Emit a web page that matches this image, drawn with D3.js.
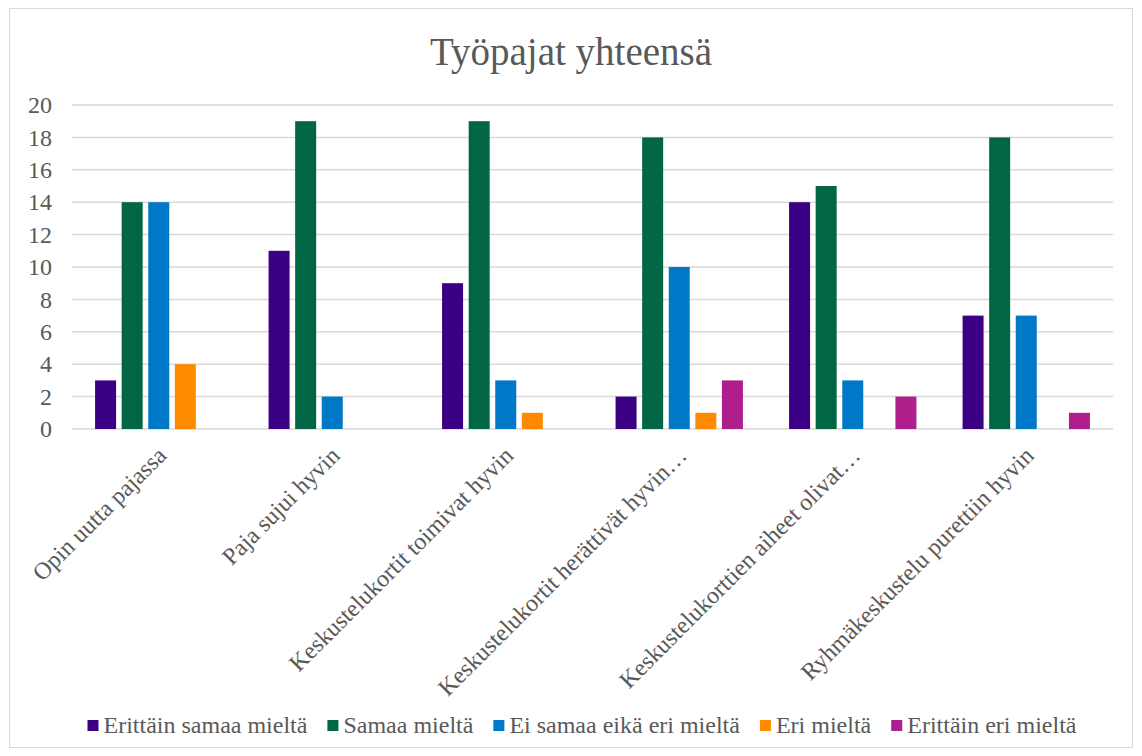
<!DOCTYPE html>
<html>
<head>
<meta charset="utf-8">
<style>
    body { margin: 0; background: #fff; }
    svg { display: block; font-family: 'Liberation Serif', 'Times New Roman', serif; }
</style>
</head>
<body>
<svg width="1142" height="756"></svg>
<script src="https://d3js.org/d3.v7.min.js"></script>
<script>
    // categories and series
    let categories = ["Opin uutta pajassa", "Paja sujui hyvin", "Keskustelukortit toimivat hyvin",
        "Keskustelukortit herättivät hyvin…", "Keskustelukorttien aiheet olivat…", "Ryhmäkeskustelu purettiin hyvin"]
    let seriesNames = ["Erittäin samaa mieltä", "Samaa mieltä", "Ei samaa eikä eri mieltä", "Eri mieltä", "Erittäin eri mieltä"]
    let erittainSamaa = [3, 11, 9, 2, 14, 7]
    let samaa = [14, 19, 19, 18, 15, 18]
    let eiSamaaEikaEri = [14, 2, 3, 10, 3, 7]
    let eri = [4, 0, 1, 1, 0, 0]
    let erittainEri = [0, 0, 0, 3, 2, 1]
    let yTicks = [0, 2, 4, 6, 8, 10, 12, 14, 16, 18, 20]
    let colors = ["#3b0083", "#006646", "#0078c8", "#ff8a00", "#ae1f8c"]

    let seriesValues = [erittainSamaa, samaa, eiSamaaEikaEri, eri, erittainEri]

    let svg = d3.select("svg")
    let serif = "'Liberation Serif', 'Times New Roman', serif"

    // chart border
    svg.append("rect")
        .attr("x", 9.5).attr("y", 8.5)
        .attr("width", 1123).attr("height", 739)
        .attr("fill", "#fff").attr("stroke", "#d9d9d9")

    svg.append("text")
        .attr("x", 571).attr("y", 65)
        .attr("text-anchor", "middle")
        .style("font-family", serif)
        .style("font-size", "39px")
        .style("fill", "#595959")
        .text("Työpajat yhteensä")

    let plotLeft = 72, plotRight = 1113, plotTop = 105, plotBottom = 429

    let x = d3.scaleBand().domain(categories).range([plotLeft, plotRight]).paddingInner(0).paddingOuter(0)
    let xInner = d3.scaleBand().domain(seriesNames).range([x.bandwidth() * 0.133, x.bandwidth() * 0.867]).paddingInner(0.21)
    let y = d3.scaleLinear().domain([0, 20]).range([plotBottom, plotTop])

    // gridlines
    svg.append("g")
        .selectAll("line")
        .data(yTicks)
        .join("line")
        .attr("x1", plotLeft).attr("x2", plotRight)
        .attr("y1", d => y(d)).attr("y2", d => y(d))
        .style("stroke", "#d9d9d9")
        .style("stroke-width", 1.5)

    // y axis labels
    let yAxis = d3.axisLeft(y).tickValues(yTicks).tickSize(0).tickPadding(20)
    let yg = svg.append("g").attr("transform", `translate(${plotLeft},0)`).call(yAxis)
    yg.attr("font-family", null).attr("font-size", null)
    yg.select(".domain").remove()
    yg.selectAll("text")
        .style("font-family", serif)
        .style("font-size", "24px")
        .style("fill", "#595959")

    // bars
    seriesValues.forEach((vals, i) => {
        svg.append("g")
            .selectAll("rect")
            .data(vals.map((v, j) => ({ cat: categories[j], v: v })))
            .join("rect")
            .attr("x", d => x(d.cat) + xInner(seriesNames[i]))
            .attr("width", xInner.bandwidth())
            .attr("y", d => y(d.v))
            .attr("height", d => y(0) - y(d.v))
            .style("fill", colors[i])
    })

    // x labels rotated
    svg.append("g")
        .selectAll("text")
        .data(categories)
        .join("text")
        .attr("transform", d => `translate(${x(d) + x.bandwidth() / 2 + 3},${plotBottom + 22}) rotate(-45)`)
        .attr("text-anchor", "end")
        .attr("dy", "0.35em")
        .style("font-family", serif)
        .style("font-size", "24px")
        .style("fill", "#595959")
        .text(d => d)

    // legend
    let legend = svg.append("g")
    let lx = 0
    seriesNames.forEach((name, i) => {
        let item = legend.append("g").attr("transform", `translate(${lx},0)`)
        item.append("rect")
            .attr("x", 0).attr("y", -13)
            .attr("width", 11).attr("height", 11)
            .style("fill", colors[i])
        let t = item.append("text")
            .attr("x", 16).attr("y", 0)
            .style("font-family", serif)
            .style("font-size", "24px")
            .style("fill", "#595959")
            .text(name)
        lx += 16 + t.node().getComputedTextLength() + 20
    })
    let lw = lx - 20
    legend.attr("transform", `translate(${582 - lw / 2},733)`)
</script>
</body>
</html>
